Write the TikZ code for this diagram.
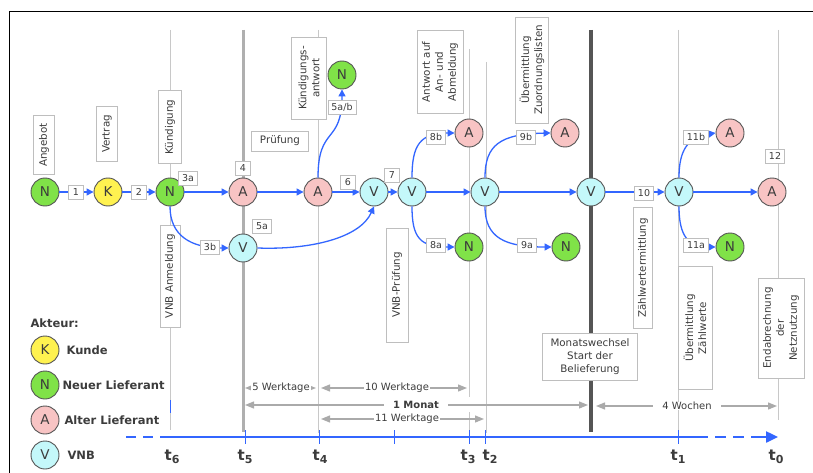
\documentclass[tikz,border=0pt]{standalone}
\usepackage{fontspec}
\setmainfont{DejaVu Sans}
\usetikzlibrary{arrows.meta}
\definecolor{ngreen}{RGB}{128,226,72}
\definecolor{kyellow}{RGB}{255,242,80}
\definecolor{apink}{RGB}{248,196,196}
\definecolor{vcyan}{RGB}{196,248,250}
\definecolor{circ}{RGB}{85,85,85}
\definecolor{flow}{RGB}{51,102,255}
\definecolor{boxc}{RGB}{190,190,190}
\definecolor{txt}{RGB}{60,60,60}
\definecolor{vline}{RGB}{200,200,200}
\definecolor{tfive}{RGB}{175,175,175}
\definecolor{mwline}{RGB}{85,85,85}
\definecolor{dur}{RGB}{170,170,170}
\newcommand{\tsub}[1]{t\raisebox{-0.4ex}{\fontsize{11}{11}\selectfont #1}}
\tikzset{
  actor/.style={circle, draw=circ, line width=0.9pt, minimum size=28pt, inner sep=0pt,
    font=\fontsize{13.5}{13.5}\selectfont, text=txt},
  nn/.style={actor, fill=ngreen},
  kk/.style={actor, fill=kyellow},
  aa/.style={actor, fill=apink},
  vv/.style={actor, fill=vcyan},
  lab/.style={draw=boxc, fill=white, font=\fontsize{9.5}{10}\selectfont, text=txt,
    inner xsep=3.5pt, inner ysep=1pt, minimum width=15pt, minimum height=14pt},
  tbox/.style={draw=boxc, fill=white, font=\fontsize{10.3}{13}\selectfont, text=txt,
    align=center, inner sep=2pt},
  tline/.style={draw=vline, line width=1pt},
  flowarrow/.style={draw=flow, line width=1.3pt, -{Triangle[length=7pt,width=7pt]}},
  durarrow/.style={draw=dur, line width=1.2pt, {Triangle[length=9pt,width=7pt]}-{Triangle[length=9pt,width=7pt]}},
  durtext/.style={fill=white, inner ysep=0pt, inner xsep=1pt, text=txt, font=\fontsize{10}{10}\selectfont},
  axis/.style={draw=flow, line width=2.4pt},
  tlab/.style={font=\fontsize{15}{15}\bfseries, text=txt},
  legtext/.style={anchor=west, font=\fontsize{11.5}{12}\bfseries, text=txt}
}
\begin{document}
\begin{tikzpicture}[x=1pt,y=-1pt]
\useasboundingbox (0,0) rectangle (813,473);
\fill[white] (0,0) rectangle (813,473);
% frame
\draw[line width=1pt, black] (9,473) -- (9,12) -- (813,12);

% vertical time lines
\draw[tline] (170,30) -- (170,430);
\draw[draw=tfive, line width=3pt] (243,30) -- (243,432);
\draw[tline] (318,30) -- (318,433);
\draw[tline] (469,49) -- (469,397);
\draw[tline] (469,412) -- (469,433);
\draw[tline] (486,62) -- (486,433);
\draw[draw=mwline, line width=4pt] (591,30) -- (591,432);
\draw[tline] (678,30) -- (678,437);
\draw[tline] (778,30) -- (778,420);

% time axis
\draw[axis, dash pattern=on 10pt off 7pt] (126,437) -- (170,437);
\draw[axis] (170,437) -- (697,437);
\draw[axis, dash pattern=on 11pt off 7pt] (697,437) -- (764,437);
\draw[draw=flow, line width=2.4pt, -{Triangle[length=12pt,width=11pt]}] (760,437) -- (778,437);
\foreach \x in {245,319,394,469,485,678} \draw[draw=flow, line width=1pt] (\x,430) -- (\x,444);
\draw[draw=flow, line width=1pt] (170,400) -- (170,413);

% time labels
\node[tlab] (t6) at (172,457) {\tsub{6}};
\node[tlab] (t5) at (245,457) {\tsub{5}};
\node[tlab] (t4) at (320,457) {\tsub{4}};
\node[tlab] (t3) at (468,457) {\tsub{3}};
\node[tlab] (t2) at (490,457) {\tsub{2}};
\node[tlab] (t1) at (678,457) {\tsub{1}};
\node[tlab] (t0) at (776,457) {\tsub{0}};

% durations
\draw[durarrow] (245,388) -- (316,388);
\node[durtext] (d5) at (281,388) {5 Werktage};
\draw[durarrow] (321,388) -- (467,388);
\node[durtext] (d10) at (397,388) {10 Werktage};
\draw[durarrow] (245,405) -- (588,405);
\node[durtext, inner xsep=9pt, font=\fontsize{10}{10}\bfseries] (d1m) at (416,405) {1 Monat};
\draw[durarrow] (321,419) -- (484,419);
\node[durtext] (d11) at (407,419) {11 Werktage};
\draw[durarrow] (596,406) -- (777,406);
\node[durtext, inner xsep=9pt] (d4w) at (687,406) {4 Wochen};

% text boxes
\node[tbox, rotate=90, minimum width=59pt, minimum height=21pt] (angebot) at (44,145) {Angebot};
\node[tbox, rotate=90, minimum width=55pt, minimum height=21pt] (vertrag) at (107,134) {Vertrag};
\node[tbox, rotate=90, minimum width=73pt, minimum height=23pt] (kuend) at (170,127) {Kündigung};
\node[tbox, minimum width=57pt, minimum height=20pt] (pruef) at (280,141) {Prüfung};
\node[tbox, rotate=90, minimum width=82pt, minimum height=35pt] (kantw) at (309,78) {Kündigungs-\\antwort};
\node[tbox, rotate=90, minimum width=83pt, minimum height=46pt] (antw) at (440,72) {Antwort auf\\An- und\\Abmeldung};
\node[tbox, rotate=90, minimum width=106pt, minimum height=33pt] (zuord) at (532,70) {Übermittlung\\Zuordnungslisten};
\node[tbox, rotate=90, minimum width=102pt, minimum height=20pt] (vnban) at (170,276) {VNB Anmeldung};
\node[tbox, rotate=90, minimum width=114pt, minimum height=22pt] (vnbpr) at (397,285) {VNB-Prüfung};
\node[tbox, rotate=90, minimum width=121pt, minimum height=19pt] (zaehl) at (643,268) {Zählwertermittlung};
\node[tbox, rotate=90, minimum width=123pt, minimum height=34pt] (uebz) at (695,328) {Übermittlung\\Zählwerte};
\node[tbox, rotate=90, minimum width=100pt, minimum height=46pt] (endab) at (781,328) {Endabrechnung\\der\\Netznutzung};
\node[tbox, minimum width=95pt, minimum height=47pt] (monat) at (590,357) {Monatswechsel\\Start der\\Belieferung};

% actors
\node[nn] (n1) at (45,192) {N};
\node[kk] (k) at (108,192) {K};
\node[nn] (n2) at (170,192) {N};
\node[aa] (a1) at (243,192) {A};
\node[aa] (a2) at (318,192) {A};
\node[vv] (v1) at (374,192) {V};
\node[vv] (v2) at (412,192) {V};
\node[vv] (v3) at (485,192) {V};
\node[vv] (v4) at (591,192) {V};
\node[vv] (v5) at (679,192) {V};
\node[aa] (a6) at (772,192) {A};
\node[vv] (vb) at (243,248) {V};
\node[nn] (ntop) at (342,75) {N};
\node[aa] (a8) at (469,133) {A};
\node[aa] (a9) at (565,133) {A};
\node[aa] (a11) at (730,133) {A};
\node[nn] (n8) at (469,247) {N};
\node[nn] (n9) at (566,247) {N};
\node[nn] (n11) at (730,247) {N};

% flows
\draw[flowarrow] (n1) -- (k);
\draw[flowarrow] (k) -- (n2);
\draw[flowarrow] (n2) -- (a1);
\draw[flowarrow] (a1) -- (a2);
\draw[flowarrow] (a2) -- (v1);
\draw[flowarrow] (v1) -- (v2);
\draw[flowarrow] (v2) -- (v3);
\draw[flowarrow] (v3) -- (v4);
\draw[flowarrow] (v4) -- (v5);
\draw[flowarrow] (v5) -- (a6);
\draw[flowarrow] (n2.south) .. controls (170,235) and (190,248) .. (vb.west);
\draw[flowarrow] (vb.east) .. controls (310,250) and (360,238) .. (v1.south);
\draw[flowarrow] (a2.north) .. controls (318,125) and (342,145) .. (ntop.south);
\draw[flowarrow] (v2.north) .. controls (412,145) and (420,133) .. (a8.west);
\draw[flowarrow] (v2.south) .. controls (412,238) and (420,247) .. (n8.west);
\draw[flowarrow] (v3.north) .. controls (485,145) and (500,134) .. (a9.west);
\draw[flowarrow] (v3.south) .. controls (485,238) and (505,247) .. (n9.west);
\draw[flowarrow] (v5.north) .. controls (679,150) and (688,137) .. (a11.west);
\draw[flowarrow] (v5.south) .. controls (679,236) and (688,247) .. (n11.west);

% flow labels
\node[lab] (l1) at (76,192) {1};
\node[lab] (l2) at (139,192) {2};
\node[lab] (l3a) at (188,178) {3a};
\node[lab] (l3b) at (210,247) {3b};
\node[lab] (l4) at (243,168) {4};
\node[lab] (l5a) at (262,226) {5a};
\node[lab] (l5ab) at (342,107) {5a/b};
\node[lab] (l6) at (348,182) {6};
\node[lab] (l7) at (392,175) {7};
\node[lab] (l8b) at (436,137) {8b};
\node[lab] (l8a) at (436,245) {8a};
\node[lab] (l9b) at (526,137) {9b};
\node[lab] (l9a) at (527,245) {9a};
\node[lab] (l10) at (644,193) {10};
\node[lab] (l11b) at (696,137) {11b};
\node[lab] (l11a) at (696,245) {11a};
\node[lab] (l12) at (775,156) {12};

% legend
\node[anchor=west, font=\fontsize{11.5}{12}\bfseries, text=txt] (akteur) at (27,323) {Akteur:};
\node[kk] (lk) at (45,350) {K};
\node[legtext] (lkt) at (63,350) {Kunde};
\node[nn] (ln) at (45,385) {N};
\node[legtext] (lnt) at (59,385) {Neuer Lieferant};
\node[aa] (la) at (45,420) {A};
\node[legtext] (lat) at (61,420) {Alter Lieferant};
\node[vv] (lv) at (45,455) {V};
\node[legtext] (lvt) at (64,455) {VNB};
\end{tikzpicture}
\end{document}
